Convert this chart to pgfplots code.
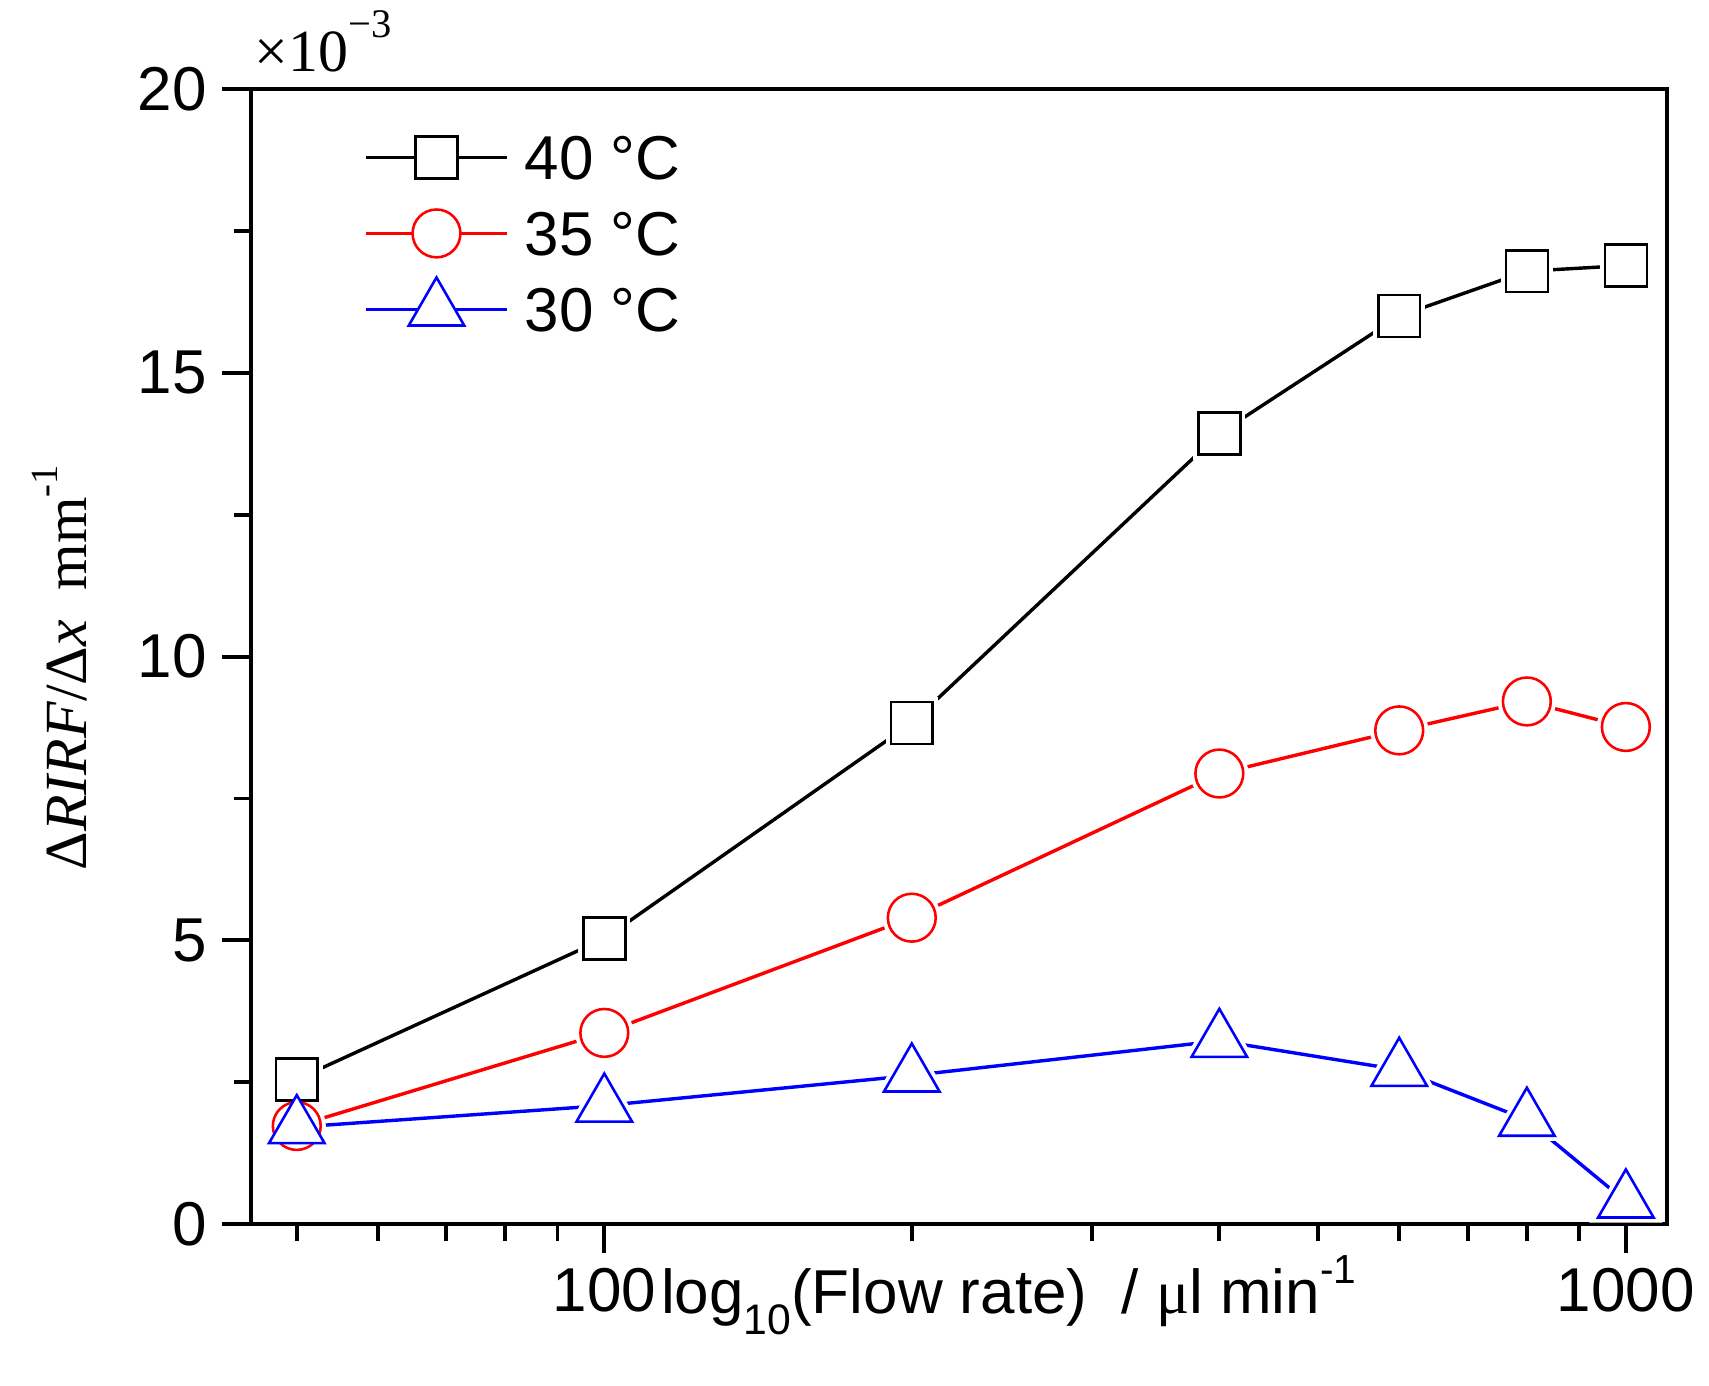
\documentclass[border=0pt]{standalone}
\usepackage{pgfplots}
\pgfplotsset{compat=1.18}
\usepackage{pgfplotstable}
\usepackage{fontspec}
\setmainfont{Liberation Sans}
\newfontfamily\serif{Liberation Serif}

\pgfplotstableread{
x    black  red   blue
50   2.55   1.73  1.71
100  5.03   3.37  2.09
200  8.83   5.40  2.62
400  13.93  7.94  3.23
600  16.00  8.70  2.72
800  16.79  9.21  1.84
1000 16.89  8.76  0.40
}\datatable

\begin{document}
\begin{tikzpicture}
\useasboundingbox (-58.75pt,-37.7pt) rectangle (341.25pt,286.53pt);
\begin{axis}[
  at={(0,0)}, anchor=south west,
  scale only axis, width=331.4pt, height=265.7pt,
  clip=false,
  xmode=log, xmin=45.1, xmax=1097, ymin=0, ymax=20,
  xtick={100,1000}, xticklabels={100,1000},
  minor xtick={50,60,70,80,90,200,300,400,500,600,700,800,900},
  ytick={0,5,10,15,20}, yticklabels={0,5,10,15,20},
  minor ytick={2.5,7.5,12.5,17.5},
  tick align=outside, xtick pos=bottom, ytick pos=left,
  major tick length=6.8pt, minor tick length=3.9pt,
  every tick/.style={black, line width=0.9pt},
  axis line style={line width=0.9pt},
  ticklabel style={font=\fontsize{14.5}{17}\selectfont},
  /pgf/number format/assume math mode=true,
  xlabel={log\raisebox{-5pt}{\fontsize{10}{10}\selectfont 10}(Flow rate)\ \ / {\serif μ}l min\raisebox{7pt}{\fontsize{9.5}{10}\selectfont -1}},
  xlabel style={at={(axis description cs:0.2790,-0.0783)}, anchor=base west, font=\fontsize{14.5}{17}\selectfont},
  ylabel={{\serif Δ\textit{RIRF}/Δ\textit{x}\ \ mm\raisebox{7pt}{\fontsize{9}{9}\selectfont -1}}},
  ylabel style={at={(axis description cs:-0.1352,0.4902)}, anchor=center, font=\fontsize{14}{16}\selectfont},
  legend image code/.code={\draw[mark repeat=2,mark phase=2,#1] plot coordinates {(0pt,0pt) (16.5pt,0pt) (33pt,0pt)};},
  legend style={draw=none, fill=none, inner sep=0pt, outer sep=0pt,
    at={(axis description cs:0.0800,0.9727)}, anchor=north west,
    font=\fontsize{14.5}{17}\selectfont, row sep=0.3pt,
    nodes={inner sep=0pt, text height=14pt, text depth=3.5pt},
    /tikz/every odd column/.append style={column sep=3.8pt}},
  legend cell align=left,
]
% lines
\addplot[black, line width=0.8pt, forget plot] table[x=x,y=black]{\datatable};
\addplot[red, line width=0.8pt, forget plot] table[x=x,y=red]{\datatable};
\addplot[blue, line width=0.8pt, forget plot] table[x=x,y=blue]{\datatable};
% white halos (gaps around markers)
\addplot[only marks, mark=square*, mark size=4.9pt, mark options={draw=white, fill=white, line width=2.4pt}, forget plot] table[x=x,y=black]{\datatable};
\addplot[only marks, mark=*, mark size=5.6pt, mark options={draw=white, fill=white, line width=2.4pt}, forget plot] table[x=x,y=red]{\datatable};
\addplot[only marks, mark=triangle*, mark size=7.5pt, mark options={draw=white, fill=white, line width=2.4pt}, forget plot] table[x=x,y=blue]{\datatable};
% markers
\addplot[only marks, mark=square*, mark size=4.9pt, mark options={draw=black, fill=white, line width=0.6pt}, forget plot] table[x=x,y=black]{\datatable};
\addplot[only marks, mark=*, mark size=5.6pt, mark options={draw=red, fill=white, line width=0.6pt}, forget plot] table[x=x,y=red]{\datatable};
\addplot[only marks, mark=triangle*, mark size=7.5pt, mark options={draw=blue, fill=white, line width=0.6pt}, forget plot] table[x=x,y=blue]{\datatable};
% legend
\addlegendimage{black, line width=0.8pt, mark=square*, mark size=4.9pt, mark options={solid, draw=black, fill=white, line width=0.6pt}}
\addlegendentry{40 °C}
\addlegendimage{red, line width=0.8pt, mark=*, mark size=5.6pt, mark options={solid, draw=red, fill=white, line width=0.6pt}}
\addlegendentry{35 °C}
\addlegendimage{blue, line width=0.8pt, mark=triangle*, mark size=7.5pt, mark options={solid, draw=blue, fill=white, line width=0.6pt}}
\addlegendentry{30 °C}
% axis multiplier
\node[anchor=base west, font=\serif\fontsize{14}{16}\selectfont] at (axis description cs:-0.0080,1.0151) {×10\raisebox{8pt}{\fontsize{9.5}{9.5}\selectfont −3}};
\end{axis}
\end{tikzpicture}
\end{document}
